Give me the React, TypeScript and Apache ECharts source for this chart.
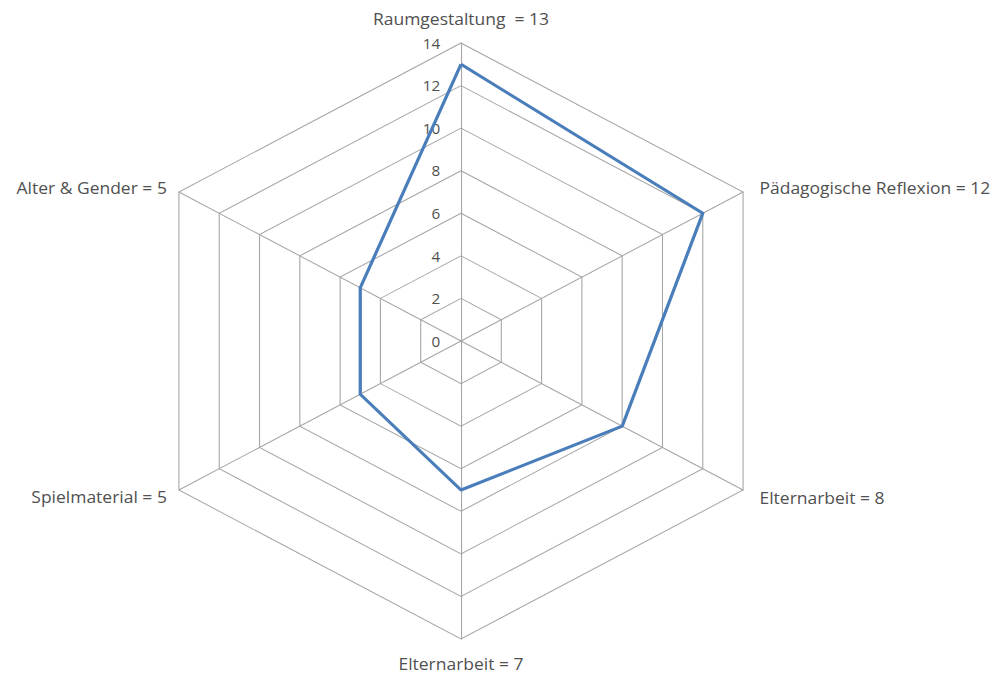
import React, { useEffect, useRef } from "react";
import * as echarts from "echarts";

// ---- data ----
const categories = [
  "Raumgestaltung ",
  "Pädagogische Reflexion",
  "Elternarbeit",
  "Elternarbeit",
  "Spielmaterial",
  "Alter & Gender",
];
const values = [13, 12, 8, 7, 5, 5];
const tickLabels = ["0", "2", "4", "6", "8", "10", "12", "14"];
const axisMin = 0;
const axisMax = 14;
const axisStep = 2;

// ---- layout ----
const W = 999;
const H = 678;
const CX = 461;
const CY = 341;
const R = 298;
const STRETCH = 1.093; // the reference chart is drawn horizontally stretched
const FONT = "'Open Sans', Lato, sans-serif";
const TEXT_COLOR = "#505050";
const GRID_COLOR = "#a6a6a6";
const LINE_COLOR = "#4a7ebb";

// label placement relative to each category's vertex (unstretched px)
const labelLayout = [
  { dx: 0, dy: -24, align: "center" },
  { dx: 15, dy: -4, align: "left" },
  { dx: 15, dy: 8, align: "left" },
  { dx: 0, dy: 25, align: "center" },
  { dx: -11, dy: 7, align: "right" },
  { dx: -11, dy: -4, align: "right" },
];
// angle of each category (clockwise from top, degrees)
const categoryAngles = [0, 60, 120, 180, 240, 300];

export default function App() {
  const ref = useRef<HTMLDivElement>(null);

  useEffect(() => {
    const chart = echarts.init(ref.current!, undefined, { renderer: "svg" });
    // ECharts radar runs counter-clockwise from the top
    const order = [0, 5, 4, 3, 2, 1];
    const graphics = categories.map((name, i) => {
      const ang = (categoryAngles[i] * Math.PI) / 180;
      const vx = CX + Math.sin(ang) * R;
      const vy = CY - Math.cos(ang) * R;
      const l = labelLayout[i];
      return {
        type: "text",
        x: vx + l.dx,
        y: vy + l.dy,
        style: {
          text: `${name} = ${values[i]}`,
          fill: TEXT_COLOR,
          font: `16px ${FONT}`,
          align: l.align,
          verticalAlign: "middle",
        },
      };
    });
    chart.setOption({
      animation: false,
      radar: {
        center: [CX, CY],
        radius: R,
        startAngle: 90,
        splitNumber: (axisMax - axisMin) / axisStep,
        shape: "polygon",
        indicator: order.map((i) => ({ name: categories[i], min: axisMin, max: axisMax })),
        axisName: { show: false },
        axisLine: { lineStyle: { color: GRID_COLOR, width: 1 } },
        splitLine: { lineStyle: { color: GRID_COLOR, width: 1 } },
        splitArea: { show: false },
        axisLabel: { show: false },
        axisTick: { show: false },
      },
      grid: { left: CX, width: 1, top: CY - R, height: R },
      xAxis: { type: "value", show: false },
      yAxis: {
        type: "value",
        min: axisMin,
        max: axisMax,
        interval: axisStep,
        axisLine: { show: false },
        axisTick: { show: false },
        splitLine: { show: false },
        axisLabel: {
          margin: 19,
          color: TEXT_COLOR,
          fontSize: 14,
          fontFamily: FONT,
          formatter: (v: number) => tickLabels[Math.round((v - axisMin) / axisStep)] ?? "",
        },
      },
      series: [
        {
          type: "radar",
          symbol: "none",
          lineStyle: { color: LINE_COLOR, width: 3 },
          data: [{ value: order.map((i) => values[i]) }],
        },
      ],
      graphic: graphics,
    });

    return () => {
      chart.dispose();
    };
  }, []);

  return (
    <div style={{ position: "fixed", left: 0, top: 0, width: W, height: H, background: "#fff", overflow: "hidden" }}>
      <div
        ref={ref}
        style={{
          position: "absolute",
          left: 0,
          top: 0,
          width: W,
          height: H,
          transform: `scaleX(${STRETCH})`,
          transformOrigin: `${CX}px ${CY}px`,
        }}
      />
    </div>
  );
}
